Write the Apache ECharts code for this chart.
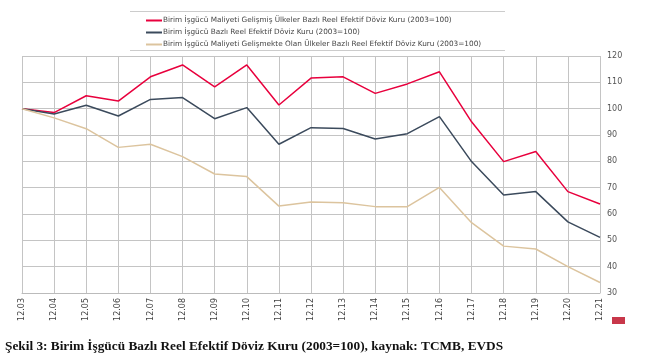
<!DOCTYPE html>
<html><head><meta charset="utf-8">
<script src="https://cdn.jsdelivr.net/npm/echarts@6/dist/echarts.min.js"></script>
<style>html,body{margin:0;padding:0;background:#fff;}#c{width:647px;height:363px;}</style>
</head><body><div id="c"></div>
<script>
const categories = ['12.03','12.04','12.05','12.06','12.07','12.08','12.09','12.10','12.11','12.12','12.13','12.14','12.15','12.16','12.17','12.18','12.19','12.20','12.21'];
const seriesNames = [
  'Birim İşgücü Maliyeti Gelişmiş Ülkeler Bazlı Reel Efektif Döviz Kuru (2003=100)',
  'Birim İşgücü Bazlı Reel Efektif Döviz Kuru (2003=100)',
  'Birim İşgücü Maliyeti Gelişmekte Olan Ülkeler Bazlı Reel Efektif Döviz Kuru (2003=100)'
];
const developed = [100, 98.5, 104.9, 102.9, 112.1, 116.6, 108.3, 116.6, 101.4, 111.6, 112.1, 105.8, 109.4, 114, 95, 79.9, 83.7, 68.5, 63.8];
const overall = [100, 98, 101.3, 97.2, 103.5, 104.2, 96.2, 100.4, 86.5, 92.8, 92.5, 88.5, 90.5, 97, 79.9, 67.2, 68.5, 57, 51.1];
const developing = [100, 96.5, 92.4, 85.3, 86.5, 81.8, 75.2, 74.2, 63, 64.6, 64.3, 62.8, 62.8, 70.1, 56.7, 47.8, 46.7, 40, 34];
const caption = 'Şekil 3: Birim İşgücü Bazlı Reel Efektif Döviz Kuru (2003=100), kaynak: TCMB, EVDS';

const chart = echarts.init(document.getElementById('c'), null, {renderer:'canvas'});
const colors = ['#e8003d', '#3b4a5c', '#dcc49e'];
chart.setOption({
  animation: false,
  backgroundColor: '#fff',
  color: colors,
  legend: {
    orient: 'vertical', left: 141, top: 12, itemGap: 5,
    itemWidth: 16, itemHeight: 2,
    icon: 'rect',
    textStyle: {fontFamily: 'DejaVu Sans', fontSize: 7.3, color: '#444', padding: [0,0,0,-4]},
    data: seriesNames
  },
  grid: {left: 22, right: 47, top: 56, bottom: 70},
  xAxis: {
    type: 'category', data: categories, boundaryGap: false,
    axisLine: {lineStyle: {color: '#bbb'}},
    axisTick: {show: false},
    splitLine: {show: true, lineStyle: {color: '#c4c4c4', width: 1}},
    axisLabel: {rotate: 90, fontSize: 8, color: '#444', fontFamily: 'DejaVu Sans', margin: 5, interval: 0}
  },
  yAxis: {
    type: 'value', position: 'right', min: 30, max: 120, interval: 10,
    axisLine: {show: false}, axisTick: {show: false},
    splitLine: {lineStyle: {color: '#c4c4c4', width: 1}},
    axisLabel: {fontSize: 8, color: '#555', fontFamily: 'DejaVu Sans', margin: 7}
  },
  series: [
    {name: seriesNames[0], type: 'line', data: developed, symbol: 'none', lineStyle: {width: 1.5}},
    {name: seriesNames[1], type: 'line', data: overall, symbol: 'none', lineStyle: {width: 1.5}},
    {name: seriesNames[2], type: 'line', data: developing, symbol: 'none', lineStyle: {width: 1.5}}
  ],
  graphic: [
    {type: 'line', shape: {x1: 130, y1: 11.5, x2: 505, y2: 11.5}, style: {stroke: '#ccc', lineWidth: 1}},
    {type: 'line', shape: {x1: 130, y1: 50.5, x2: 505, y2: 50.5}, style: {stroke: '#ccc', lineWidth: 1}},
    {type: 'rect', shape: {x: 612, y: 317, width: 13, height: 7}, style: {fill: '#c8374a'}},
    {type: 'text', left: 5, top: 340, style: {text: caption, font: 'bold 13.3px "Liberation Serif"', fill: '#111'}}
  ]
});
</script></body></html>
